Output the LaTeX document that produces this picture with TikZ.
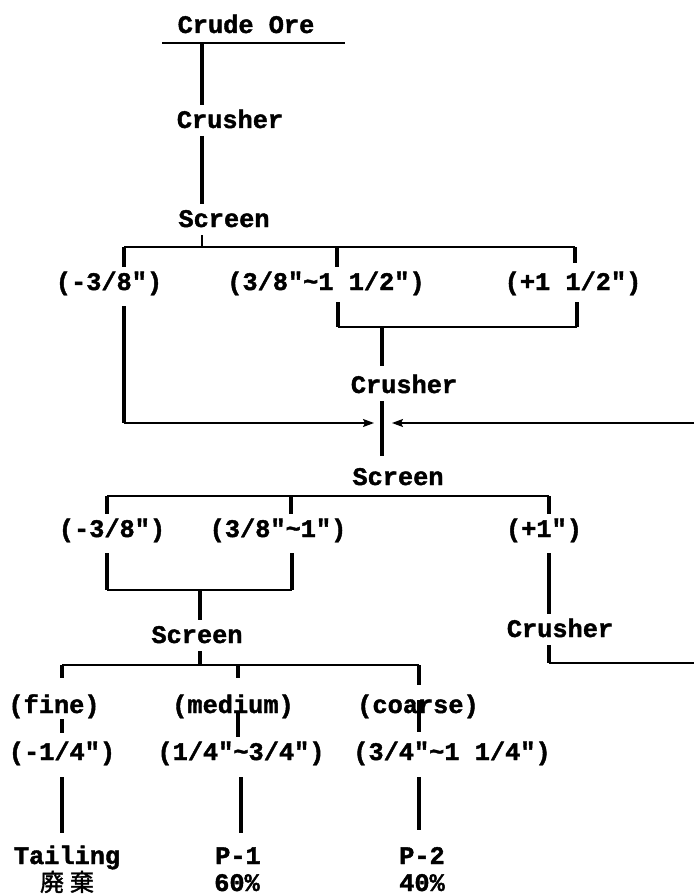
\documentclass[tikz,border=0pt]{standalone}
\usepackage{fontspec}
\newfontfamily\labfont{Liberation Mono}[BoldFeatures={FakeBold=1.6}]
\newfontfamily\cjkfont{Noto Sans CJK JP}[FakeBold=1.5]
\usetikzlibrary{arrows.meta}
\begin{document}
\begin{tikzpicture}[x=1pt,y=-1pt,
  lab/.style={font=\labfont\bfseries\fontsize{25.3}{28}\selectfont,
    inner sep=0pt, outer sep=8pt, text height=15pt, text depth=0pt, anchor=base},
  plab/.style={lab, text depth=4pt},
  zhlab/.style={lab, font=\cjkfont\fontsize{24}{28}\selectfont},
  vline/.style={line width=3.4pt},
  hline/.style={line width=1.5pt},
  feed/.style={hline, -{Stealth[length=11pt,width=8pt,inset=2pt]}}]
\useasboundingbox (0,0) rectangle (694,896);

% ---- labels ----
\node[lab]  (ore) at (246,33)  {Crude Ore};
\node[lab]  (crA) at (230,128) {Crusher};
\node[lab]  (scA) at (224,227) {Screen};
\node[plab] (aF)  at (109,290) {(-3/8")};
\node[plab] (aM)  at (326,290) {(3/8"\textasciitilde 1 1/2")};
\node[plab] (aC)  at (573,290) {(+1 1/2")};
\node[lab]  (crB) at (404,393) {Crusher};
\node[lab]  (scB) at (398,485) {Screen};
\node[plab] (bF)  at (112,537) {(-3/8")};
\node[plab] (bM)  at (278,537) {(3/8"\textasciitilde 1")};
\node[plab] (bC)  at (544,537) {(+1")};
\node[lab]  (crC) at (560,637) {Crusher};
\node[lab]  (scC) at (197,643) {Screen};
\node[plab] (cF)  at (54,713)  {(fine)};
\node[plab] (cM)  at (233,713) {(medium)};
\node[plab] (cC)  at (418,713) {(coarse)};
\node[plab] (dF)  at (62,760)  {(-1/4")};
\node[plab] (dM)  at (241,760) {(1/4"\textasciitilde 3/4")};
\node[plab] (dC)  at (452,760) {(3/4"\textasciitilde 1 1/4")};
\node[lab]  (tail) at (67,864) {Tailing};
\node[zhlab] (tailzh) at (67,891) {廃\hspace{6pt}棄};
\node[lab]  (p1)  at (238,864) {P-1};
\node[lab]  (p1v) at (237,891) {60\%};
\node[lab]  (p2)  at (422,864) {P-2};
\node[lab]  (p2v) at (422,891) {40\%};

% ---- feed line ----
\coordinate (ulL) at (162,43);
\coordinate (ulR) at (345,43);
\coordinate (s1)  at (202,43);
\draw[hline] (ulL) -- (ulR);
\draw[vline] (s1) -- (crA.north -| s1);
\draw[vline] (crA.south -| s1) -- (scA.north -| s1);

% ---- first screen ----
\coordinate (tA)  at (202,247);
\coordinate (tAl) at (124,247);
\coordinate (tAm) at (337,247);
\coordinate (tAr) at (575,247);
\draw[line width=2.4pt] (scA.south -| tA) -- (tA);
\draw[hline] (tAl) -- (tAr);
\draw[vline] (tAl) -- (aF.north -| tAl);
\draw[vline] (tAm) -- (aM.north -| tAm);
\draw[vline, shorten >=4pt] (tAr) -- (aC.north -| tAr);

% oversize to second crusher
\coordinate (uM) at (338,327);
\coordinate (uC) at (577,327);
\coordinate (uB) at (382,327);
\draw[vline] (aM.south -| uM) -- (uM);
\draw[vline] (aC.south -| uC) -- (uC);
\draw[hline] (uM) -- (uC);
\draw[vline, shorten >=4pt] (uB) -- (crB.north -| uB);
\draw[vline, shorten >=6pt] (crB.south -| uB) -- (scB.north -| uB);

% undersize and return line joining the stream
\coordinate (rA)  at (124,423);
\coordinate (mB)  at (382,423);
\coordinate (rec) at (694,423);
\draw[vline, shorten <=4pt] (aF.south -| rA) -- (rA);
\draw[feed, shorten >=8pt] (rA) -- (mB);
\draw[feed, shorten >=10pt] (rec) -- (mB);

% ---- second screen ----
\coordinate (tBl) at (107,496);
\coordinate (tBm) at (291,496);
\coordinate (tBr) at (549,496);
\draw[hline] (tBl) -- (tBr);
\draw[vline] (tBl) -- (bF.north -| tBl);
\draw[vline] (tBm) -- (bM.north -| tBm);
\draw[vline] (tBr) -- (bC.north -| tBr);

\coordinate (uBl) at (107,590);
\coordinate (uBm) at (292,590);
\coordinate (uBc) at (200,590);
\draw[vline, shorten <=4pt] (bF.south -| uBl) -- (uBl);
\draw[vline, shorten <=4pt] (bM.south -| uBm) -- (uBm);
\draw[hline] (uBl) -- (uBm);
\draw[vline] (uBc) -- (scC.north -| uBc);

% oversize to third crusher and back
\coordinate (kC) at (549,663);
\coordinate (kE) at (694,663);
\draw[vline, shorten <=4pt] (bC.south -| tBr) -- (crC.north -| tBr);
\draw[vline] (crC.south -| kC) -- (kC);
\draw[hline] (kC) -- (kE);

% ---- third screen ----
\coordinate (tC)  at (200,665);
\coordinate (tCl) at (62,665);
\coordinate (tCm) at (238,665);
\coordinate (tCr) at (419,665);
\draw[vline] (scC.south -| tC) -- (tC);
\draw[hline] (tCl) -- (tCr);
\draw[vline, shorten >=12pt] (tCl) -- (cF.north -| tCl);
\draw[vline, shorten >=12pt] (tCm) -- (cM.north -| tCm);
\draw[vline, shorten >=5pt]  (tCr) -- (cC.north -| tCr);

\draw[vline, shorten <=-6pt, shorten >=4pt] (cF.south -| tCl) -- (dF.north -| tCl);
\draw[vline, shorten <=-14pt] (cM.south -| tCm) -- (dM.north -| tCm);
\draw[vline, shorten <=-25pt, shorten >=5pt] (cC.south -| tCr) -- (dC.north -| tCr);

\coordinate (xF) at (62,780);
\coordinate (xM) at (241,780);
\coordinate (xC) at (419,780);
\draw[vline, shorten <=5pt, shorten >=8pt] (dF.south -| xF) -- (tail.north -| xF);
\draw[vline, shorten <=5pt, shorten >=8pt] (dM.south -| xM) -- (p1.north -| xM);
\draw[vline, shorten <=5pt, shorten >=11pt] (dC.south -| xC) -- (p2.north -| xC);
\end{tikzpicture}
\end{document}
